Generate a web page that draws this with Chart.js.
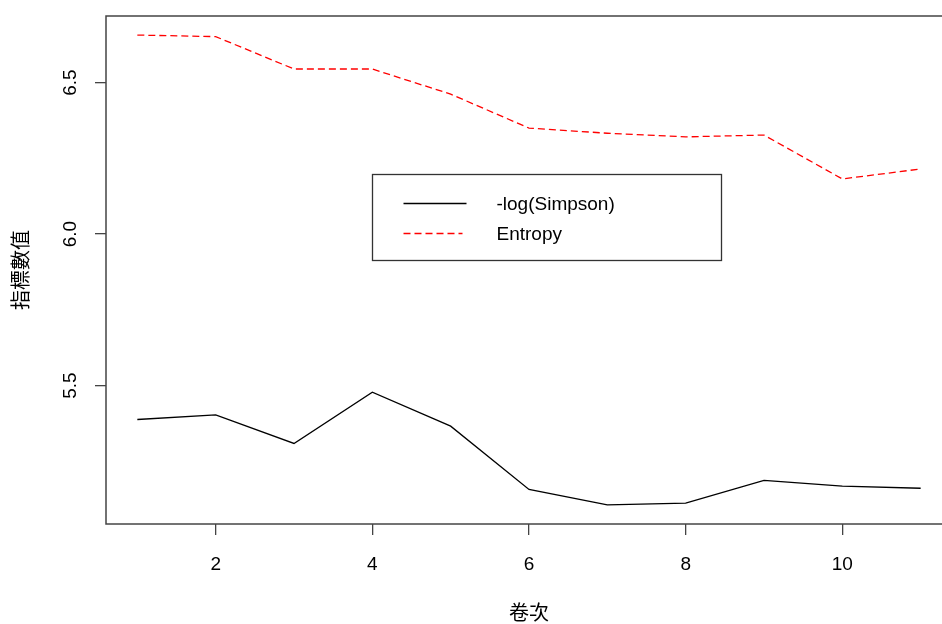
<!DOCTYPE html>
<html lang="zh-Hant">
<head>
  <meta charset="UTF-8" />
  <title>指標數值 vs 卷次</title>
  <script src="https://cdn.jsdelivr.net/npm/chart.js"></script>
  <style>
    * { margin: 0; padding: 0; }
    body { background: #fff; width: 942px; height: 624px; overflow: hidden; }
    .wrap { width: 942px; height: 624px; overflow: hidden; }
  </style>
</head>
<body>
  <div class="wrap">
    <canvas id="chart" width="960" height="624"></canvas>
  </div>

  <script>
    // data
    const volumes = [1, 2, 3, 4, 5, 6, 7, 8, 9, 10, 11];
    const simpson = [5.388, 5.403, 5.309, 5.478, 5.366, 5.157, 5.106, 5.112, 5.187, 5.168, 5.161];
    const entropy = [6.657, 6.652, 6.545, 6.545, 6.462, 6.350, 6.333, 6.321, 6.327, 6.182, 6.215];
    const xTicks = [2, 4, 6, 8, 10];
    const yTicks = [5.5, 6.0, 6.5];
    const yTickLabels = ['5.5', '6.0', '6.5'];

    const FONT = '"Liberation Sans", Arial, "Noto Sans CJK TC", sans-serif';
    const AXIS = '#444';

    function pts(ys) {
      return volumes.map((v, i) => ({ x: v, y: ys[i] }));
    }

    // box around plot, rotated y tick labels and the legend box
    const rPlot = {
      id: 'rPlot',
      afterDraw(chart) {
        const ctx = chart.ctx;
        const a = chart.chartArea;
        const xs = chart.scales.x, ys = chart.scales.y;

        ctx.save();
        ctx.strokeStyle = AXIS;
        ctx.lineWidth = 1.5;
        ctx.strokeRect(a.left, a.top, a.right - a.left, a.bottom - a.top);

        // y tick labels, vertical like R's las=0
        ctx.fillStyle = '#000';
        ctx.font = '19px ' + FONT;
        ctx.textAlign = 'center';
        ctx.textBaseline = 'middle';
        yTicks.forEach((v, i) => {
          const py = ys.getPixelForValue(v);
          ctx.save();
          ctx.translate(71, py);
          ctx.rotate(-Math.PI / 2);
          ctx.fillText(yTickLabels[i], 0, 0);
          ctx.restore();
        });

        // legend at (4, 6.2) in data units
        const lx = Math.round(xs.getPixelForValue(4)) + 0.5;
        const ly = Math.round(ys.getPixelForValue(6.2)) + 0.5;
        ctx.fillStyle = '#fff';
        ctx.fillRect(lx, ly, 349, 86);
        ctx.strokeStyle = '#333';
        ctx.lineWidth = 1.3;
        ctx.strokeRect(lx, ly, 349, 86);

        chart.data.datasets.forEach((ds, i) => {
          const yy = ly + 29 + i * 30;
          ctx.beginPath();
          ctx.strokeStyle = ds.borderColor;
          ctx.lineWidth = ds.borderWidth;
          ctx.setLineDash(ds.borderDash || []);
          ctx.moveTo(lx + 31, yy);
          ctx.lineTo(lx + (ds.borderDash ? 90 : 94), yy);
          ctx.stroke();
          ctx.setLineDash([]);
          ctx.fillStyle = '#000';
          ctx.textAlign = 'left';
          ctx.textBaseline = 'middle';
          ctx.fillText(ds.label, lx + 124, yy + 1);
        });
        ctx.restore();
      }
    };

    new Chart(document.getElementById('chart'), {
      type: 'line',
      data: {
        datasets: [
          {
            label: '-log(Simpson)',
            data: pts(simpson),
            borderColor: '#000',
            borderWidth: 1.3,
            pointRadius: 0,
            tension: 0
          },
          {
            label: 'Entropy',
            data: pts(entropy),
            borderColor: '#ff0000',
            borderWidth: 1.3,
            borderDash: [7, 4],
            pointRadius: 0,
            tension: 0
          }
        ]
      },
      options: {
        responsive: false,
        animation: false,
        layout: { padding: { top: 16, right: 8, left: 0, bottom: 0 } },
        plugins: {
          legend: { display: false },
          tooltip: { enabled: false }
        },
        scales: {
          x: {
            type: 'linear',
            min: 0.6,
            max: 11.4,
            afterBuildTicks: s => { s.ticks = xTicks.map(v => ({ value: v })); },
            afterFit: s => { s.height = 100; },
            grid: { drawOnChartArea: false, drawTicks: true, tickLength: 11, color: AXIS, lineWidth: 1.3 },
            border: { display: false },
            ticks: {
              autoSkip: false,
              maxRotation: 0,
              padding: 18,
              color: '#000',
              font: { family: FONT, size: 19 },
              callback: v => String(v)
            },
            title: {
              display: true,
              text: '卷次',
              color: '#000',
              padding: { top: 0, bottom: 0 },
              font: { family: FONT, size: 20, lineHeight: 1 }
            }
          },
          y: {
            type: 'linear',
            min: 5.043,
            max: 6.72,
            afterBuildTicks: s => { s.ticks = yTicks.map(v => ({ value: v })); },
            afterFit: s => { s.width = 106; },
            grid: { drawOnChartArea: false, drawTicks: true, tickLength: 11, color: AXIS, lineWidth: 1.3 },
            border: { display: false },
            ticks: { display: false },
            title: {
              display: true,
              text: '指標數值',
              color: '#000',
              padding: { top: 12, bottom: 0 },
              font: { family: FONT, size: 20, lineHeight: 1 }
            }
          }
        }
      },
      plugins: [rPlot]
    });
  </script>
</body>
</html>
